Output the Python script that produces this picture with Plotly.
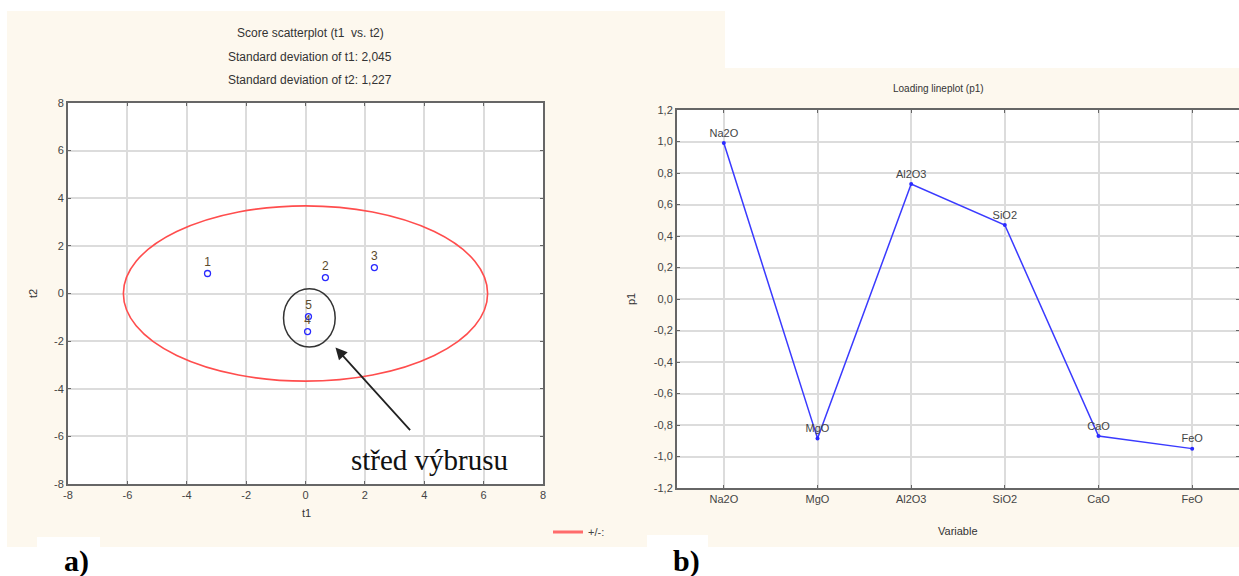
import plotly.graph_objects as go

W, H = 1239, 576

# ---------------- data ----------------
sample_ids = ["1", "2", "3", "4", "5"]
t1_scores = [-3.3, 0.67, 2.32, 0.07, 0.1]
t2_scores = [0.84, 0.67, 1.09, -1.6, -0.97]
sd_t1 = 2.045
sd_t2 = 1.227
ellipse_factor = 3.0

variables = ["Na2O", "MgO", "Al2O3", "SiO2", "CaO", "FeO"]
p1_loadings = [0.99, -0.885, 0.73, 0.47, -0.87, -0.95]

left_ticks = [-8, -6, -4, -2, 0, 2, 4, 6, 8]
left_ticktext = ["-8", "-6", "-4", "-2", "0", "2", "4", "6", "8"]
right_yticks = [-1.2, -1.0, -0.8, -0.6, -0.4, -0.2, 0.0, 0.2, 0.4, 0.6, 0.8, 1.0, 1.2]
right_yticktext = ["-1,2", "-1,0", "-0,8", "-0,6", "-0,4", "-0,2", "0,0",
                   "0,2", "0,4", "0,6", "0,8", "1,0", "1,2"]


def px(x):
    return min(max(x / W, 0), 1)


def py(y):
    return min(max(1 - y / H, 0), 1)


BEIGE = "#fdf8ee"
TICKC = "#444444"
GRID = "#dcdcdc"
AXC = "#666666"
FONT = "Liberation Sans, Arial, sans-serif"
SERIF = "Liberation Serif, Times New Roman, serif"

fig = go.Figure()

# score points
fig.add_trace(go.Scatter(
    x=t1_scores, y=t2_scores, mode="markers+text", text=sample_ids,
    textposition="top center", textfont=dict(size=12, color="#5b4a2c", family=FONT),
    marker=dict(symbol="circle-open", size=6, color="#2a2aff", line=dict(width=1.3)),
    xaxis="x", yaxis="y", showlegend=False, cliponaxis=False))

# legend entry for ellipse
fig.add_trace(go.Scatter(
    x=[None], y=[None], mode="lines", name="+/-:",
    line=dict(color="#ff6b6b", width=3), xaxis="x", yaxis="y", showlegend=True))

# loading line plot
fig.add_trace(go.Scatter(
    x=variables, y=p1_loadings, mode="lines+markers+text", text=variables,
    textposition="top center", textfont=dict(size=11, color="#444444", family=FONT),
    line=dict(color="#3a3aff", width=1.5),
    marker=dict(symbol="circle", size=4, color="#2a2aff"),
    xaxis="x2", yaxis="y2", showlegend=False, cliponaxis=False))

common_axis = dict(showgrid=True, gridcolor=GRID, gridwidth=1.5, zeroline=False,
                   showline=True, linecolor=AXC, linewidth=2, mirror="ticks",
                   ticks="inside", ticklen=3, tickcolor=AXC, automargin=False,
                   tickfont=dict(size=11, color=TICKC, family=FONT))

layout = dict(
    width=W, height=H, margin=dict(l=0, r=0, t=0, b=0, pad=0, autoexpand=False),
    paper_bgcolor=BEIGE, plot_bgcolor="white",
    font=dict(family=FONT, color=TICKC),
    xaxis=dict(domain=[px(68), px(543)], range=[-8, 8], tickvals=left_ticks,
               ticktext=left_ticktext, anchor="y", **common_axis),
    yaxis=dict(domain=[py(484), py(103)], range=[-8, 8], tickvals=left_ticks,
               ticktext=left_ticktext, anchor="x", **common_axis),
    xaxis2=dict(domain=[px(677), px(1239)], range=[-0.5, 5.5], type="category",
                anchor="y2", **common_axis),
    yaxis2=dict(domain=[py(488), py(110)], range=[-1.2, 1.2], tickvals=right_yticks,
                ticktext=right_yticktext, anchor="x2", **common_axis),
    legend=dict(x=px(548), y=py(532), xanchor="left", yanchor="middle",
                bgcolor="rgba(0,0,0,0)", font=dict(size=11, color=TICKC),
                itemwidth=30),
)

shapes = [
    # white regions outside the beige panels
    dict(type="rect", xref="paper", yref="paper", x0=0, x1=1, y0=py(11), y1=1,
         fillcolor="white", line_width=0, layer="below"),
    dict(type="rect", xref="paper", yref="paper", x0=px(725), x1=1, y0=py(68), y1=1,
         fillcolor="white", line_width=0, layer="below"),
    dict(type="rect", xref="paper", yref="paper", x0=0, x1=px(7), y0=0, y1=1,
         fillcolor="white", line_width=0, layer="below"),
    dict(type="rect", xref="paper", yref="paper", x0=0, x1=1, y0=0, y1=py(547),
         fillcolor="white", line_width=0, layer="below"),
    dict(type="rect", xref="paper", yref="paper", x0=px(37), x1=px(100), y0=0, y1=py(537),
         fillcolor="white", line_width=0, layer="below"),
    dict(type="rect", xref="paper", yref="paper", x0=px(647), x1=px(708), y0=0, y1=py(535),
         fillcolor="white", line_width=0, layer="below"),
    # confidence ellipse
    dict(type="circle", xref="x", yref="y",
         x0=-ellipse_factor * sd_t1, x1=ellipse_factor * sd_t1,
         y0=-ellipse_factor * sd_t2, y1=ellipse_factor * sd_t2,
         line=dict(color="#ff4d4d", width=1.6)),
    # highlight circle around samples 4,5
    dict(type="circle", xref="x", yref="y", x0=-0.74, x1=1.0, y0=-2.25, y1=0.2,
         line=dict(color="#333333", width=1.5)),
]
layout["shapes"] = shapes


def label(text, x, y, size=11, angle=0, color="#333333", family=FONT):
    return dict(text=text, xref="paper", yref="paper", x=px(x), y=py(y),
                xanchor="center", yanchor="middle", showarrow=False, textangle=angle,
                font=dict(size=size, color=color, family=family))


ann = [
    label("Score scatterplot (t1  vs. t2)", 310, 33, 12),
    label("Standard deviation of t1: 2,045", 310, 57, 12),
    label("Standard deviation of t2: 1,227", 310, 80, 12),
    label("Loading lineplot (p1)", 938, 89, 10),
    label("t1", 306, 513),
    label("t2", 33, 294, angle=-90),
    label("p1", 631, 299, angle=-90),
    label("Variable", 958, 531),
    label("<b>a)</b>", 76, 561, 30, color="black", family=SERIF),
    label("<b>b)</b>", 686, 561, 30, color="black", family=SERIF),
]
# arrow
ann.append(dict(x=1.01, y=-2.27, ax=3.57, ay=-5.8, xref="x", yref="y", axref="x",
                ayref="y", text="", showarrow=True, arrowhead=2, arrowsize=1.3,
                arrowwidth=1.8, arrowcolor="#222222"))
ann.append(dict(text="střed výbrusu", x=4.16, y=-7.0, xref="x", yref="y",
                xanchor="center", yanchor="middle", showarrow=False,
                font=dict(size=29, color="#111111", family=SERIF)))
layout["annotations"] = ann

fig.update_layout(**layout)
fig.write_html("out.html", config={"displayModeBar": False},
               post_script="document.body.style.margin='0';"
                           "document.body.style.overflow='hidden';")
